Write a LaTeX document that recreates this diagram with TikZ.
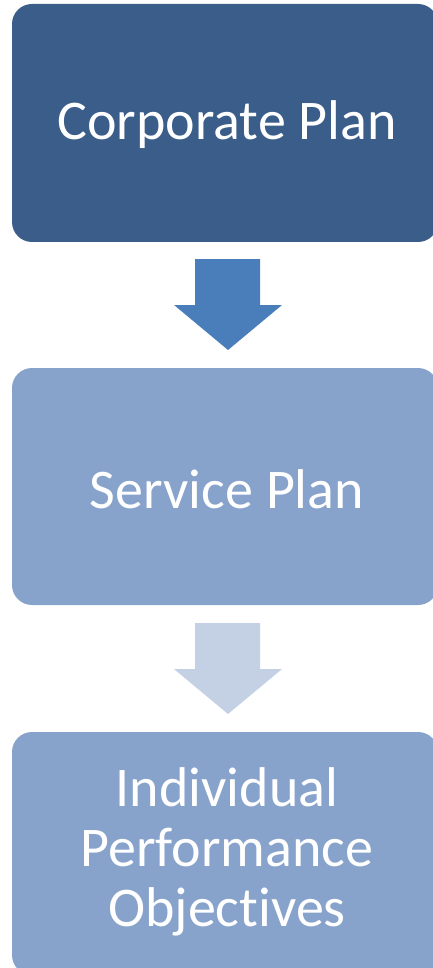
\documentclass[tikz,border=0pt]{standalone}
\usepackage{fontspec}
\setmainfont[Ligatures=NoCommon]{Carlito}
\definecolor{dark}{HTML}{3A5D8A}
\definecolor{arrowA}{HTML}{4A7EBB}
\definecolor{light}{HTML}{88A3CB}
\definecolor{arrowB}{HTML}{C4D0E4}
\tikzset{
  box/.style={fill=#1, rounded corners=20pt},
  lbl/.style={text=white, align=center, font=\fontsize{56}{60}\selectfont},
  downarrow/.style={fill=#1}
}
\begin{document}
\begin{tikzpicture}[x=1pt,y=-1pt]
\useasboundingbox (0,0) rectangle (432,968);
\fill[box=dark] (12,4) rectangle (438,242);
\fill[box=light] (12,368) rectangle (438,605);
\fill[box=light] (12,732) rectangle (438,975);
\fill[downarrow=arrowA] (195,259) -- (260,259) -- (260,305) -- (282,305) -- (228,350) -- (174,305) -- (195,305) -- cycle;
\fill[downarrow=arrowB] (195,623) -- (260,623) -- (260,669) -- (282,669) -- (228,714) -- (174,669) -- (195,669) -- cycle;
\node[lbl] (a) at (227,125) {Corporate Plan};
\node[lbl] (b) at (227,489) {Service Plan};
\node[lbl] (c) at (227,852) {Individual\\Performance\\Objectives};
\end{tikzpicture}
\end{document}
